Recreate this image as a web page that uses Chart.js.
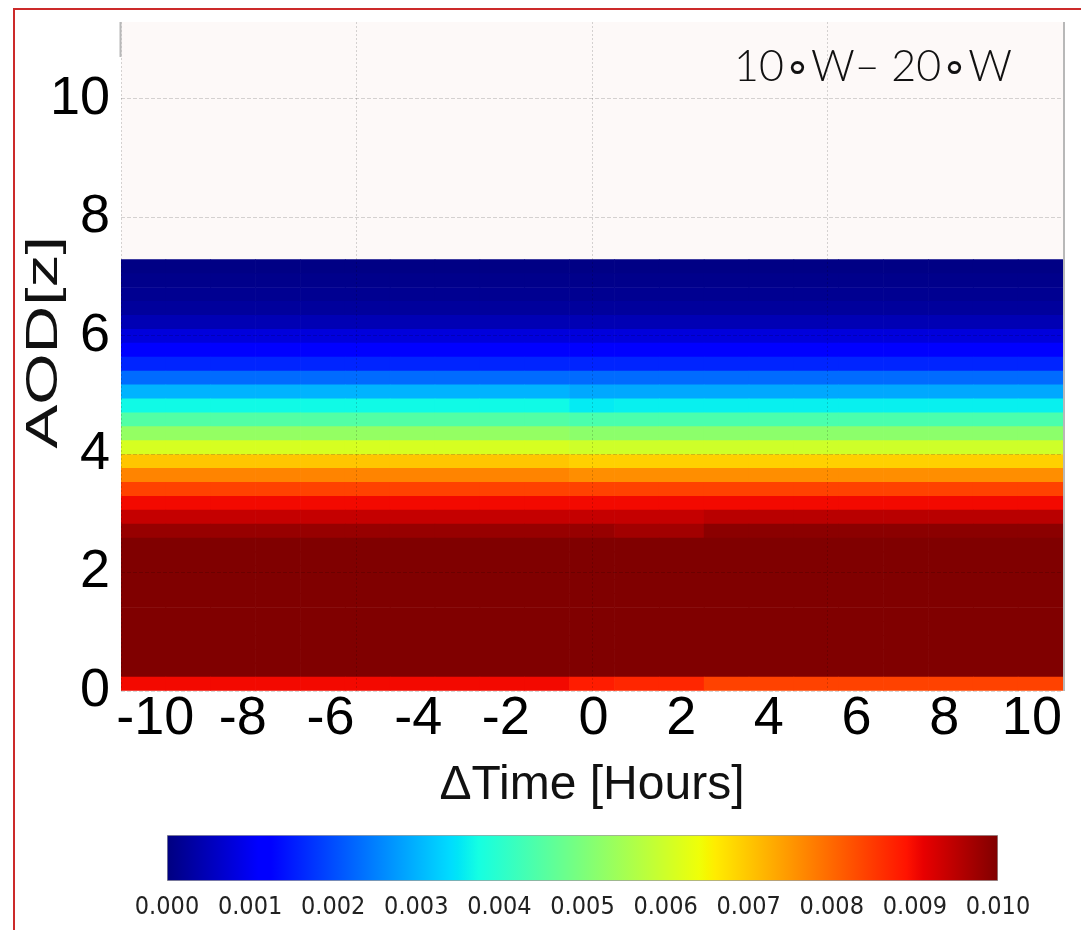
<!DOCTYPE html>
<html>
<head>
<meta charset="utf-8">
<script src="https://cdn.jsdelivr.net/npm/chart.js@4.4.1/dist/chart.umd.min.js"></script>
<style>
  html, body { margin: 0; padding: 0; background: #fff; }
  #wrap { position: relative; width: 1081px; height: 930px; overflow: hidden; }
  #frame { position: absolute; left: 13px; top: 8px; right: -10px; bottom: -10px;
           border-left: 2px solid #cc2a2a; border-top: 2px solid #cc2a2a; }
  #mainChart { position: absolute; left: 0; top: 0; }
  #barChart { position: absolute; left: 0; top: 820px; }
</style>
</head>
<body>
<div id="wrap">
  <div id="frame"></div>
  <canvas id="mainChart" width="1081" height="822"></canvas>
  <canvas id="barChart" width="1081" height="110"></canvas>
</div>
<script>
// Data
const timeHours = [-10, -9, -8, -7, -6, -5, -4, -3, -2, -1, 0, 1, 2, 3, 4, 5, 6, 7, 8, 9, 10];
const aodStep = 0.235;
// one row per AOD bin, from AOD 0 upwards, one value per hour
const densityRows = [
  [0.0090, 0.0090, 0.0090, 0.0090, 0.0090, 0.0090, 0.0090, 0.0090, 0.0090, 0.0090, 0.0088, 0.0087, 0.0087, 0.0084, 0.0084, 0.0084, 0.0084, 0.0084, 0.0084, 0.0084, 0.0084],
  [0.0100, 0.0100, 0.0100, 0.0100, 0.0100, 0.0100, 0.0100, 0.0100, 0.0100, 0.0100, 0.0100, 0.0100, 0.0100, 0.0100, 0.0100, 0.0100, 0.0100, 0.0100, 0.0100, 0.0100, 0.0100],
  [0.0100, 0.0100, 0.0100, 0.0100, 0.0100, 0.0100, 0.0100, 0.0100, 0.0100, 0.0100, 0.0100, 0.0100, 0.0100, 0.0100, 0.0100, 0.0100, 0.0100, 0.0100, 0.0100, 0.0100, 0.0100],
  [0.0100, 0.0100, 0.0100, 0.0100, 0.0100, 0.0100, 0.0100, 0.0100, 0.0100, 0.0100, 0.0100, 0.0100, 0.0100, 0.0100, 0.0100, 0.0100, 0.0100, 0.0100, 0.0100, 0.0100, 0.0100],
  [0.0100, 0.0100, 0.0100, 0.0100, 0.0100, 0.0100, 0.0100, 0.0100, 0.0100, 0.0100, 0.0100, 0.0100, 0.0100, 0.0100, 0.0100, 0.0100, 0.0100, 0.0100, 0.0100, 0.0100, 0.0100],
  [0.0100, 0.0100, 0.0100, 0.0100, 0.0100, 0.0100, 0.0100, 0.0100, 0.0100, 0.0100, 0.0100, 0.0100, 0.0100, 0.0100, 0.0100, 0.0100, 0.0100, 0.0100, 0.0100, 0.0100, 0.0100],
  [0.0100, 0.0100, 0.0100, 0.0100, 0.0100, 0.0100, 0.0100, 0.0100, 0.0100, 0.0100, 0.0100, 0.0100, 0.0100, 0.0100, 0.0100, 0.0100, 0.0100, 0.0100, 0.0100, 0.0100, 0.0100],
  [0.0100, 0.0100, 0.0100, 0.0100, 0.0100, 0.0100, 0.0100, 0.0100, 0.0100, 0.0100, 0.0100, 0.0100, 0.0100, 0.0100, 0.0100, 0.0100, 0.0100, 0.0100, 0.0100, 0.0100, 0.0100],
  [0.0100, 0.0100, 0.0100, 0.0100, 0.0100, 0.0100, 0.0100, 0.0100, 0.0100, 0.0100, 0.0100, 0.0100, 0.0100, 0.0100, 0.0100, 0.0100, 0.0100, 0.0100, 0.0100, 0.0100, 0.0100],
  [0.0100, 0.0100, 0.0100, 0.0100, 0.0100, 0.0100, 0.0100, 0.0100, 0.0100, 0.0100, 0.0100, 0.0100, 0.0100, 0.0100, 0.0100, 0.0100, 0.0100, 0.0100, 0.0100, 0.0100, 0.0100],
  [0.0100, 0.0100, 0.0100, 0.0100, 0.0100, 0.0100, 0.0100, 0.0100, 0.0100, 0.0100, 0.0100, 0.0100, 0.0100, 0.0100, 0.0100, 0.0100, 0.0100, 0.0100, 0.0100, 0.0100, 0.0100],
  [0.0098, 0.0098, 0.0098, 0.0098, 0.0098, 0.0098, 0.0098, 0.0098, 0.0098, 0.0098, 0.0098, 0.0097, 0.0097, 0.0099, 0.0099, 0.0099, 0.0099, 0.0099, 0.0099, 0.0099, 0.0099],
  [0.0094, 0.0094, 0.0094, 0.0094, 0.0094, 0.0094, 0.0094, 0.0094, 0.0094, 0.0094, 0.0094, 0.0094, 0.0094, 0.0095, 0.0095, 0.0095, 0.0095, 0.0095, 0.0095, 0.0095, 0.0095],
  [0.0090, 0.0090, 0.0090, 0.0090, 0.0090, 0.0090, 0.0090, 0.0090, 0.0090, 0.0090, 0.0090, 0.0090, 0.0090, 0.0090, 0.0090, 0.0090, 0.0090, 0.0090, 0.0090, 0.0090, 0.0090],
  [0.0084, 0.0084, 0.0084, 0.0084, 0.0084, 0.0084, 0.0084, 0.0084, 0.0084, 0.0084, 0.0084, 0.0084, 0.0084, 0.0084, 0.0084, 0.0084, 0.0084, 0.0084, 0.0084, 0.0084, 0.0084],
  [0.0077, 0.0077, 0.0077, 0.0077, 0.0077, 0.0077, 0.0077, 0.0077, 0.0077, 0.0077, 0.0076, 0.0076, 0.0076, 0.0076, 0.0076, 0.0076, 0.0076, 0.0076, 0.0076, 0.0076, 0.0076],
  [0.0070, 0.0070, 0.0070, 0.0070, 0.0070, 0.0070, 0.0070, 0.0070, 0.0070, 0.0070, 0.0069, 0.0069, 0.0069, 0.0069, 0.0069, 0.0069, 0.0069, 0.0069, 0.0069, 0.0069, 0.0069],
  [0.0061, 0.0061, 0.0061, 0.0061, 0.0061, 0.0061, 0.0061, 0.0061, 0.0061, 0.0061, 0.0060, 0.0060, 0.0060, 0.0060, 0.0060, 0.0060, 0.0060, 0.0060, 0.0060, 0.0060, 0.0060],
  [0.0053, 0.0053, 0.0053, 0.0053, 0.0053, 0.0053, 0.0053, 0.0053, 0.0053, 0.0053, 0.0052, 0.0052, 0.0052, 0.0052, 0.0052, 0.0052, 0.0052, 0.0052, 0.0052, 0.0052, 0.0052],
  [0.0045, 0.0045, 0.0045, 0.0045, 0.0045, 0.0045, 0.0045, 0.0045, 0.0045, 0.0045, 0.0044, 0.0044, 0.0044, 0.0044, 0.0044, 0.0044, 0.0044, 0.0044, 0.0044, 0.0044, 0.0044],
  [0.0037, 0.0037, 0.0037, 0.0037, 0.0037, 0.0037, 0.0037, 0.0037, 0.0037, 0.0037, 0.00355, 0.0036, 0.0036, 0.0036, 0.0036, 0.0036, 0.0036, 0.0036, 0.0036, 0.0036, 0.0036],
  [0.0030, 0.0030, 0.0030, 0.0030, 0.0030, 0.0030, 0.0030, 0.0030, 0.0030, 0.0030, 0.0029, 0.0029, 0.0029, 0.0029, 0.0029, 0.0029, 0.0029, 0.0029, 0.0029, 0.0029, 0.0029],
  [0.0023, 0.0023, 0.0023, 0.0023, 0.0023, 0.0023, 0.0023, 0.0023, 0.0023, 0.0023, 0.0023, 0.0023, 0.0023, 0.0023, 0.0023, 0.0023, 0.0023, 0.0023, 0.0023, 0.0023, 0.0023],
  [0.0016, 0.0016, 0.0016, 0.0016, 0.0016, 0.0016, 0.0016, 0.0016, 0.0016, 0.0016, 0.0016, 0.0016, 0.0016, 0.0016, 0.0016, 0.0016, 0.0016, 0.0016, 0.0016, 0.0016, 0.0016],
  [0.0012, 0.0012, 0.0012, 0.0012, 0.0012, 0.0012, 0.0012, 0.0012, 0.0012, 0.0012, 0.0012, 0.0012, 0.0012, 0.0012, 0.0012, 0.0012, 0.0012, 0.0012, 0.0012, 0.0012, 0.0012],
  [0.0008, 0.0008, 0.0008, 0.0008, 0.0008, 0.0008, 0.0008, 0.0008, 0.0008, 0.0008, 0.0008, 0.0008, 0.0008, 0.0008, 0.0008, 0.0008, 0.0008, 0.0008, 0.0008, 0.0008, 0.0008],
  [0.00045, 0.00045, 0.00045, 0.00045, 0.00045, 0.00045, 0.00045, 0.00045, 0.00045, 0.00045, 0.00045, 0.00045, 0.00045, 0.00045, 0.00045, 0.00045, 0.00045, 0.00045, 0.00045, 0.00045, 0.00045],
  [0.00025, 0.00025, 0.00025, 0.00025, 0.00025, 0.00025, 0.00025, 0.00025, 0.00025, 0.00025, 0.00025, 0.00025, 0.00025, 0.00025, 0.00025, 0.00025, 0.00025, 0.00025, 0.00025, 0.00025, 0.00025],
  [0.00015, 0.00015, 0.00015, 0.00015, 0.00015, 0.00015, 0.00015, 0.00015, 0.00015, 0.00015, 0.00015, 0.00015, 0.00015, 0.00015, 0.00015, 0.00015, 0.00015, 0.00015, 0.00015, 0.00015, 0.00015],
  [0.0001, 0.0001, 0.0001, 0.0001, 0.0001, 0.0001, 0.0001, 0.0001, 0.0001, 0.0001, 0.0001, 0.0001, 0.0001, 0.0001, 0.0001, 0.0001, 0.0001, 0.0001, 0.0001, 0.0001, 0.0001],
  [0.00005, 0.00005, 0.00005, 0.00005, 0.00005, 0.00005, 0.00005, 0.00005, 0.00005, 0.00005, 0.00005, 0.00005, 0.00005, 0.00005, 0.00005, 0.00005, 0.00005, 0.00005, 0.00005, 0.00005, 0.00005]
];
const xTickLabels = [-10, -8, -6, -4, -2, 0, 2, 4, 6, 8, 10];
const yTickLabels = [0, 2, 4, 6, 8, 10];
const colorTicks = [0, 0.001, 0.002, 0.003, 0.004, 0.005, 0.006, 0.007, 0.008, 0.009, 0.010];
const colorMin = 0;
const colorMax = 0.010;
const yTitle = 'AOD[z]';
const regionLabel = '10\u2218W\u2013 20\u2218W';

// jet colormap (matplotlib segments)
const jetRed = [[0, 0], [0.35, 0], [0.66, 1], [0.89, 1], [1, 0.5]];
const jetGreen = [[0, 0], [0.125, 0], [0.375, 1], [0.64, 1], [0.91, 0], [1, 0]];
const jetBlue = [[0, 0.5], [0.11, 1], [0.34, 1], [0.65, 0], [1, 0]];
const jetStops = [0, 0.11, 0.125, 0.34, 0.35, 0.375, 0.64, 0.65, 0.66, 0.89, 0.91, 1];

function interp(pts, t) {
    for (let i = 1; i < pts.length; i++) {
        if (t <= pts[i][0]) {
            const [x0, y0] = pts[i - 1];
            const [x1, y1] = pts[i];
            return y0 + (y1 - y0) * (t - x0) / (x1 - x0);
        }
    }
    return pts[pts.length - 1][1];
}

function jet(t) {
    t = Math.min(1, Math.max(0, t));
    const c = [jetRed, jetGreen, jetBlue].map(p => Math.round(255 * interp(p, t)));
    return `rgb(${c[0]},${c[1]},${c[2]})`;
}

const FONT = "'Liberation Sans', Arial, sans-serif";
const gridColor = 'rgba(0,0,0,0.16)';

// Build one bar dataset per AOD bin
const cellWidth = (timeHours[timeHours.length - 1] - timeHours[0]) / timeHours.length;
const datasets = densityRows.map((row, i) => ({
    data: row.map((v, k) => ({
        x: timeHours[0] + (k + 0.5) * cellWidth,
        y: [i * aodStep, (i + 1) * aodStep]
    })),
    backgroundColor: row.map(v => jet((v - colorMin) / (colorMax - colorMin))),
    borderWidth: 0,
    grouped: false,
    barPercentage: 1,
    categoryPercentage: 1
}));

const plotFrame = {
    id: 'plotFrame',
    beforeDraw(chart) {
        const { ctx, chartArea: a } = chart;
        ctx.save();
        ctx.fillStyle = '#fdf9f8';
        ctx.fillRect(a.left, a.top, a.right - a.left, a.bottom - a.top);
        ctx.restore();
    },
    afterDraw(chart) {
        const { ctx, chartArea: a } = chart;
        ctx.save();
        ctx.strokeStyle = '#b8b8b8';
        ctx.lineWidth = 2;
        ctx.beginPath();
        ctx.moveTo(a.right + 1, a.top);
        ctx.lineTo(a.right + 1, a.bottom);
        ctx.moveTo(a.left - 0.5, a.top);
        ctx.lineTo(a.left - 0.5, a.top + 35);
        ctx.stroke();

        // y title, stretched along its baseline like the original
        ctx.save();
        ctx.translate(45, (a.top + a.bottom) / 2 - 14);
        ctx.rotate(-Math.PI / 2);
        ctx.scale(1.5, 1);
        ctx.fillStyle = '#111';
        ctx.font = `44px ${FONT}`;
        ctx.textAlign = 'center';
        ctx.textBaseline = 'middle';
        ctx.fillText(yTitle, 0, 0);
        ctx.restore();

        // region label
        ctx.fillStyle = '#111';
        ctx.font = "300 43px Lato, 'Open Sans', sans-serif";
        ctx.textAlign = 'center';
        ctx.textBaseline = 'alphabetic';
        ctx.fillText(regionLabel, a.right - 190, a.top + 59);
        ctx.restore();
    }
};

new Chart(document.getElementById('mainChart'), {
    type: 'bar',
    data: { datasets },
    plugins: [plotFrame],
    options: {
        responsive: false,
        animation: false,
        events: [],
        layout: { padding: { left: 0, right: 18, top: 22, bottom: 0 } },
        plugins: { legend: { display: false }, tooltip: { enabled: false } },
        scales: {
            x: {
                type: 'linear', position: 'bottom', min: -10, max: 10, offset: false,
                ticks: { display: false, stepSize: 5 },
                grid: { offset: false, drawTicks: false, color: gridColor, z: 1 },
                border: { display: false, dash: [2, 2] },
                afterFit: a => { a.height = 0; a.paddingLeft = 0; a.paddingRight = 0; }
            },
            xl: {
                type: 'linear', position: 'bottom', min: -10.78, max: 10.71, offset: false,
                afterBuildTicks: a => { a.ticks = xTickLabels.map(v => ({ value: v })); },
                afterFit: a => { a.height = 131; a.paddingLeft = 0; a.paddingRight = 0; },
                grid: { display: false, offset: false },
                border: { display: false },
                ticks: {
                    color: '#000', padding: -7, maxRotation: 0, autoSkip: false,
                    font: { family: FONT, size: 54, lineHeight: 1 }
                },
                title: {
                    display: true, text: '\u0394Time [Hours]', color: '#111',
                    font: { family: FONT, size: 48 },
                    padding: { top: 0, bottom: 7 }
                }
            },
            y: {
                type: 'linear', min: 0, max: 11.3,
                afterBuildTicks: a => { a.ticks = yTickLabels.map(v => ({ value: v })); },
                afterFit: a => { a.width = 121; a.paddingTop = 0; a.paddingBottom = 0; },
                grid: { drawTicks: false, color: gridColor, z: 1 },
                border: { display: false, dash: [4, 2] },
                ticks: { color: '#000', padding: 11, font: { family: FONT, size: 54, lineHeight: 1 } }
            }
        }
    }
});

// Colour bar
new Chart(document.getElementById('barChart'), {
    type: 'bar',
    data: {
        labels: ['density'],
        datasets: [{
            data: [[colorMin, colorMax]],
            backgroundColor: c => {
                const a = c.chart.chartArea;
                if (!a) return null;
                const g = c.chart.ctx.createLinearGradient(a.left, 0, a.right, 0);
                jetStops.forEach(t => g.addColorStop(t, jet(t)));
                return g;
            },
            borderColor: '#a0a0a0',
            borderWidth: 1,
            borderSkipped: false,
            barPercentage: 1,
            categoryPercentage: 1
        }]
    },
    options: {
        indexAxis: 'y',
        responsive: false,
        animation: false,
        events: [],
        layout: { padding: { left: 167, right: 83, top: 15, bottom: 0 } },
        plugins: { legend: { display: false }, tooltip: { enabled: false } },
        scales: {
            x: {
                type: 'linear', min: colorMin, max: colorMax,
                afterBuildTicks: a => { a.ticks = colorTicks.map(v => ({ value: v })); },
                afterFit: a => { a.height = 49; },
                grid: { display: false },
                border: { display: false },
                ticks: {
                    callback: v => v.toFixed(3), color: '#222', padding: 6,
                    maxRotation: 0, autoSkip: false,
                    font: { family: "'DejaVu Sans Condensed', 'DejaVu Sans', sans-serif", size: 25, lineHeight: 1 }
                }
            },
            y: { display: false }
        }
    }
});
</script>
</body>
</html>
